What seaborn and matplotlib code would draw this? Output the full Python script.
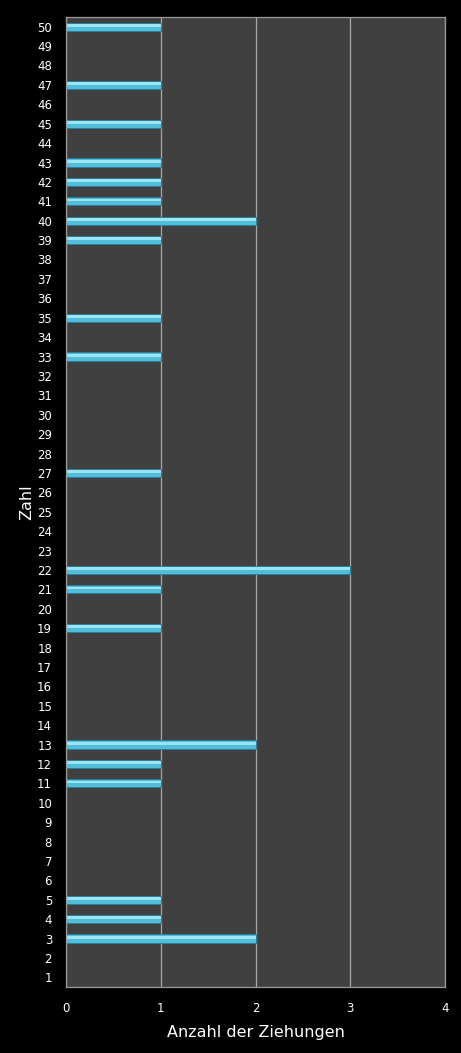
import pandas as pd
import matplotlib
matplotlib.use("Agg")
import matplotlib.pyplot as plt
import seaborn as sns

# Zahlen 1..50 und wie oft sie gezogen wurden
zahlen = list(range(1, 51))
gezogen = {3: 2, 4: 1, 5: 1, 11: 1, 12: 1, 13: 2, 19: 1, 21: 1, 22: 3, 27: 1,
           33: 1, 35: 1, 39: 1, 40: 2, 41: 1, 42: 1, 43: 1, 45: 1, 47: 1, 50: 1}
anzahl = [gezogen.get(z, 0) for z in zahlen]
x_ticks = [0, 1, 2, 3, 4]

df = pd.DataFrame({'Zahl': [str(z) for z in zahlen], 'Anzahl': anzahl})
order = [str(z) for z in reversed(zahlen)]

sns.set_theme(style="dark")
plt.rcParams['font.family'] = ['DejaVu Sans']

fig = plt.figure(figsize=(4.61, 10.53), dpi=100, facecolor='black')
ax = fig.add_axes([66 / 461, 1 - 987 / 1053, 379 / 461, 970 / 1053])
ax.set_facecolor('#404040')

# Grundbalken und schmale Glanzschicht darüber
sns.barplot(data=df, x='Anzahl', y='Zahl', order=order, orient='h',
            color='#52bdd8', width=0.42, edgecolor='#2a7f98', linewidth=0.7,
            saturation=1, ax=ax)
sns.barplot(data=df, x='Anzahl', y='Zahl', order=order, orient='h',
            color='#9be4f4', width=0.14, linewidth=0, saturation=1, ax=ax)
# Glanz leicht nach oben versetzen
for p in ax.patches[len(anzahl):]:
    p.set_y(p.get_y() - 0.07)

ax.set_xlim(0, 4)
ax.set_xticks(x_ticks)
ax.xaxis.grid(True, color='#a8a8a8', linewidth=0.9)
ax.yaxis.grid(False)
ax.set_axisbelow(True)
for s in ax.spines.values():
    s.set_visible(True)
    s.set_color('#9a9a9a')
    s.set_linewidth(0.9)

ax.tick_params(axis='both', colors='white', labelsize=8.5, length=0)
ax.tick_params(axis='y', pad=10)
ax.tick_params(axis='x', pad=11)
ax.set_xlabel('Anzahl der Ziehungen', color='white', fontsize=11.5, labelpad=7)
ax.set_ylabel('Zahl', color='white', fontsize=11.5, labelpad=2)

fig.savefig('out.png', dpi=100, facecolor='black')
